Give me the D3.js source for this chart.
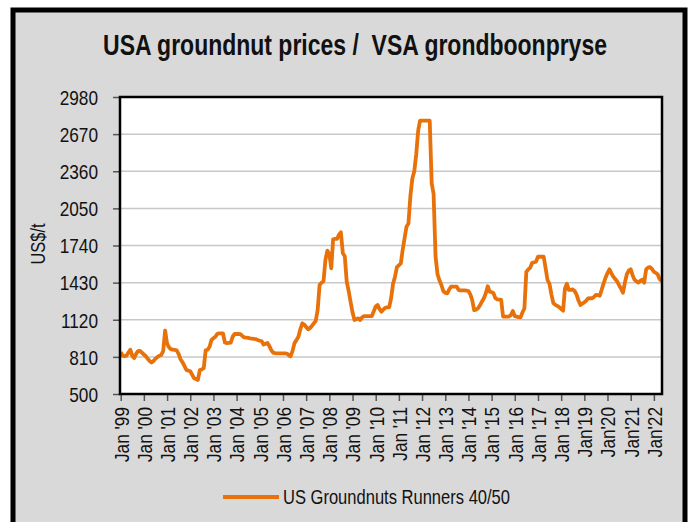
<!DOCTYPE html>
<html>
<head>
<meta charset="utf-8">
<script src="https://cdn.jsdelivr.net/npm/d3@7"></script>
<style>
  html, body { margin: 0; padding: 0; background: #ffffff; }
  svg { display: block; }
  text { font-family: "Liberation Sans", Arial, sans-serif; }
</style>
</head>
<body>
<script>
// ---------------- DATA ----------------
const chartTitle = "USA groundnut prices /  VSA grondboonpryse";
const yAxisTitle = "US$/t";
const seriesName = "US Groundnuts Runners 40/50";
const startYear = 1999;
const startMonth = 0; // January
const yTickValues = [500, 810, 1120, 1430, 1740, 2050, 2360, 2670, 2980];
const xTickLabels = ["Jan '99","Jan '00","Jan '01","Jan '02","Jan '03","Jan '04","Jan '05","Jan '06",
  "Jan '07","Jan '08","Jan '09","Jan '10","Jan '11","Jan '12","Jan '13","Jan '14","Jan '15",
  "Jan '16","Jan '17","Jan '18","Jan'19","Jan'20","Jan'21","Jan'22"];
// Monthly prices (US$/t), Jan 1999 .. May 2022
const priceValues = [
  850, 820, 815, 820, 845, 870, 820, 800, 835, 858, 860, 845,        // 1999
  830, 815, 795, 775, 762, 775, 795, 808, 820, 826, 860, 1030,       // 2000
  920, 890, 875, 870, 868, 865, 835, 790, 765, 735, 700, 695,        // 2001
  690, 660, 632, 625, 617, 700, 705, 715, 865, 870, 895, 951,        // 2002
  965, 978, 1000, 1007, 1007, 1007, 930, 925, 927, 929, 980, 1001,   // 2003
  1001, 1001, 1000, 985, 972, 970, 968, 965, 963, 960, 958, 950,     // 2004
  945, 940, 912, 920, 926, 900, 865, 845, 840, 840, 840, 840,        // 2005
  840, 840, 838, 825, 815, 860, 925, 950, 978, 1040, 1090, 1080,     // 2006
  1060, 1040, 1050, 1068, 1090, 1110, 1200, 1410, 1430, 1440, 1620, 1697, // 2007
  1670, 1550, 1792, 1795, 1795, 1830, 1850, 1675, 1650, 1440, 1360, 1270, // 2008
  1180, 1118, 1125, 1132, 1118, 1140, 1150, 1151, 1151, 1151, 1151, 1190, // 2009
  1230, 1243, 1210, 1187, 1205, 1220, 1224, 1224, 1300, 1420, 1480, 1560, // 2010
  1575, 1591, 1700, 1800, 1897, 1925, 2150, 2300, 2360, 2500, 2700, 2782, // 2011
  2782, 2782, 2782, 2782, 2782, 2260, 2170, 1646, 1500, 1450, 1410, 1360, // 2012
  1345, 1341, 1370, 1396, 1396, 1396, 1396, 1368, 1365, 1365, 1365, 1363, // 2013
  1360, 1330, 1285, 1201, 1205, 1216, 1240, 1271, 1299, 1340, 1400, 1354, // 2014
  1350, 1341, 1300, 1290, 1288, 1285, 1146, 1146, 1146, 1146, 1160, 1193, // 2015
  1150, 1146, 1142, 1140, 1180, 1216, 1520, 1540, 1555, 1596, 1600, 1605, // 2016
  1646, 1646, 1646, 1646, 1550, 1450, 1420, 1330, 1257, 1245, 1235, 1225, // 2017
  1210, 1196, 1380, 1420, 1370, 1370, 1374, 1360, 1330, 1280, 1243, 1255, // 2018
  1265, 1280, 1299, 1300, 1299, 1310, 1327, 1325, 1320, 1370, 1424, 1470, // 2019
  1510, 1541, 1510, 1480, 1460, 1440, 1410, 1380, 1346, 1430, 1500, 1530, // 2020
  1541, 1490, 1455, 1440, 1430, 1445, 1455, 1430, 1540, 1555, 1560, 1545, // 2021
  1521, 1510, 1500, 1460, 1445                                         // 2022
];

// ---------------- LAYOUT ----------------
const W = 691, H = 522;
const plot = { left: 120, right: 662, top: 97, bottom: 394 };
const NARROW = 0.82; // Arial Narrow width relative to Arial

const svg = d3.select("body").append("svg").attr("width", W).attr("height", H);

// outer frame
svg.append("rect").attr("x", 13).attr("y", 10).attr("width", 672).attr("height", 530)
  .attr("fill", "#d9d9d9").attr("stroke", "#000").attr("stroke-width", 5);

const data = priceValues.map((v, i) => ({ date: new Date(startYear, startMonth + i, 1), value: v }));
const firstDate = data[0].date, lastDate = data[data.length - 1].date;

const x = d3.scaleTime().domain([firstDate, lastDate]).range([plot.left + 0.7, plot.right - 0.5]);
const y = d3.scaleLinear().domain([500, 2980]).range([plot.bottom, plot.top]);

// compress text horizontally (narrow font look), keeping the requested anchor position
function narrow(sel, anchor, targetLen) {
  sel.each(function () {
    const t = d3.select(this);
    const ax = +t.attr("x") || 0;
    const len = this.getComputedTextLength();
    const w = targetLen != null ? targetLen : len * NARROW;
    const start = anchor === "end" ? ax - w : anchor === "middle" ? ax - w / 2 : ax;
    t.attr("text-anchor", "start").attr("x", start)
     .attr("textLength", w).attr("lengthAdjust", "spacingAndGlyphs");
  });
}

// plot background
svg.append("rect").attr("x", plot.left).attr("y", plot.top)
  .attr("width", plot.right - plot.left).attr("height", plot.bottom - plot.top).attr("fill", "#fff");

// gridlines
svg.append("g").selectAll("line").data(yTickValues.slice(1, -1)).join("line")
  .attr("x1", plot.left).attr("x2", plot.right)
  .attr("y1", d => y(d)).attr("y2", d => y(d))
  .attr("stroke", "#c8c8c8").attr("stroke-width", 1.5);

// y axis
const yAxis = svg.append("g").attr("transform", `translate(${plot.left},0)`)
  .call(d3.axisLeft(y).tickValues(yTickValues).tickSize(7).tickPadding(15).tickFormat(d3.format("d")));
yAxis.select(".domain").remove();
yAxis.selectAll(".tick line").attr("stroke", "#555").attr("stroke-width", 1.5);
yAxis.selectAll(".tick text").attr("font-size", 21).attr("fill", "#111")
  .attr("font-family", "Liberation Sans, Arial, sans-serif").attr("dy", "0.35em")
  .attr("x", -22).call(narrow, "end");

// x axis
const xTickDates = xTickLabels.map((_, i) => new Date(startYear + i, 0, 1));
const xAxis = svg.append("g").attr("transform", `translate(0,${plot.bottom})`)
  .call(d3.axisBottom(x).tickValues(xTickDates).tickSize(7).tickFormat((d, i) => xTickLabels[i]));
xAxis.select(".domain").remove();
xAxis.selectAll(".tick line").attr("stroke", "#555").attr("stroke-width", 1.5);
xAxis.selectAll(".tick text")
  .attr("font-size", 21).attr("fill", "#111")
  .attr("font-family", "Liberation Sans, Arial, sans-serif")
  .attr("transform", "rotate(-90)")
  .attr("x", -13).attr("y", 0).attr("dy", "0.35em")
  .call(narrow, "end");

// series line
svg.append("path").datum(data)
  .attr("d", d3.line().x(d => x(d.date)).y(d => y(d.value)))
  .attr("fill", "none").attr("stroke", "#E8710A").attr("stroke-width", 3.8)
  .attr("stroke-linejoin", "round").attr("stroke-linecap", "butt");

// plot border
svg.append("rect").attr("x", plot.left).attr("y", plot.top)
  .attr("width", plot.right - plot.left).attr("height", plot.bottom - plot.top)
  .attr("fill", "none").attr("stroke", "#000").attr("stroke-width", 2.5);

// title (horizontally scaled to look like a narrow bold face)
const titleG = svg.append("g");
const titleT = titleG.append("text").attr("x", 0).attr("y", 0).attr("text-anchor", "middle")
  .attr("font-size", 30).attr("font-weight", "bold").attr("fill", "#111")
  .style("white-space", "pre").text(chartTitle);
const titleLen = titleT.node().getComputedTextLength();
titleG.attr("transform", `translate(355,55) scale(${504 / titleLen},1)`);

// y axis title
svg.append("text").attr("transform", "translate(45,244) rotate(-90)")
  .attr("x", 0).attr("font-size", 20).attr("fill", "#111")
  .text(yAxisTitle).call(narrow, "middle");

// legend
const lg = svg.append("g");
lg.append("line").attr("x1", 223).attr("x2", 279).attr("y1", 497).attr("y2", 497)
  .attr("stroke", "#E8710A").attr("stroke-width", 3.8);
lg.append("text").attr("x", 283).attr("y", 503.5).attr("font-size", 21).attr("fill", "#111")
  .text(seriesName).call(narrow, "start", 227);
</script>
</body>
</html>
